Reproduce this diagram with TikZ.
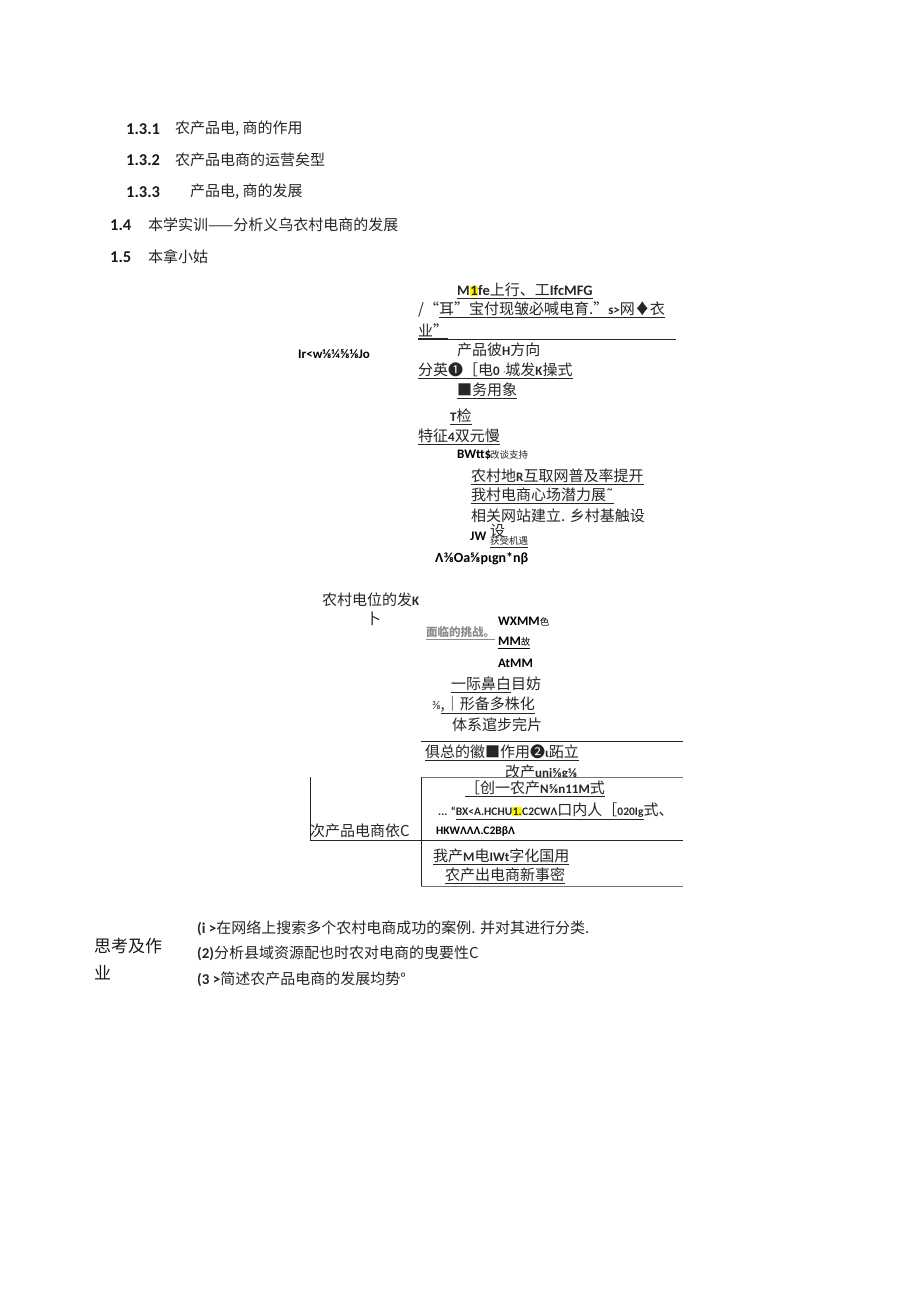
\documentclass[tikz,border=0pt]{standalone}
\usepackage{fontspec}
\setmainfont{Carlito}
\newfontfamily\cjk{Noto Sans CJK SC}
\newfontfamily\lat{Carlito}
\newfontfamily\dv{DejaVu Sans}
\newcommand\Bl[1]{{\lat\bfseries\fontsize{14.5}{16}\selectfont #1}}
\newcommand\Bs[1]{{\lat\bfseries\fontsize{13}{14}\selectfont #1}}
\newcommand\Bt[1]{{\lat\bfseries\fontsize{11.5}{13}\selectfont #1}}
\newcommand\hl[1]{{\setlength{\fboxsep}{0.5pt}\colorbox{yellow}{#1}}}
\newcommand\ul[1]{\underline{#1}}
\tikzset{
  t/.style={anchor=west, inner sep=0pt, text=black!85, font=\cjk\fontsize{15}{17}\selectfont},
  ts/.style={anchor=west, inner sep=0pt, text=black!85, font=\cjk\fontsize{9.5}{10}\selectfont},
  num/.style={anchor=west, inner sep=0pt, text=black!90, font=\lat\bfseries\fontsize{16.5}{18}\selectfont},
  big/.style={anchor=west, inner sep=0pt, text=black!90, font=\cjk\fontsize{17}{19}\selectfont},
  rule/.style={line width=0.9pt, black!85},
  grule/.style={line width=0.9pt, black!55},
}
\begin{document}
\begin{tikzpicture}[x=1pt,y=-1pt]
\useasboundingbox[fill=white] (0,0) rectangle (920,1301);
% contents list
\node[num] (n131) at (126,129) {1.3.1};
\node[t] (t131) at (175,129) {农产品电, 商的作用};
\node[num] (n132) at (126,160) {1.3.2};
\node[t] (t132) at (175,160) {农产品电商的运营矣型};
\node[num] (n133) at (126,192) {1.3.3};
\node[t] (t133) at (190,192) {产品电, 商的发展};
\node[num] (n14) at (110,225) {1.4};
\node[t] (t14) at (148,225) {本学实训——分析义乌衣村电商的发展};
\node[num] (n15) at (110,257) {1.5};
\node[t] (t15) at (148,257) {本拿小姑};
% mind map upper
\node[t] (a1) at (457,291) {\ul{\Bl{M\hl{1}fe}上行、工\Bl{IfcMFG}}};
\node[t] (a2) at (418,310) {/“\ul{耳”宝付现皱必喊电育.”\Bs{s>}网♦衣}};
\node[t] (a3) at (418,331) {\ul{业”}};
\coordinate (l1a) at (418,339); \coordinate (l1b) at (676,339);
\draw[rule] (l1a) -- (l1b);
\node[t] (a4) at (457,350) {产品彼\Bs{H}方向};
\node[anchor=west,inner sep=0pt] (a5) at (298,354) {\Bs{Ir<w⅛¼⅝⅛Jo}};
\node[t] (a6) at (418,371) {\ul{分英❶［电\Bs{0} {\dv\fontsize{9}{10}\selectfont ᐧ}城发\Bs{K}操式}};
\node[t] (a7) at (457,391) {\ul{■务用象}};
\node[t] (a8) at (450,417) {\ul{\Bs{T}检}};
\node[t] (a9) at (418,437) {\ul{特征\Bs{4}双元慢}};
\node[anchor=west,inner sep=0pt] (a10) at (457,455) {\Bs{BWtt\$}};
\node[ts] (a10b) at (490,455) {改谈支持};
\node[t] (a11) at (471,477) {\ul{农村地\Bs{R}互取网普及率提开}};
\node[t] (a12) at (471,496) {\ul{我村电商心场潜力展{\dv ˜}}};
\node[t] (a13) at (471,516) {相关网站建立. 乡村基触设};
\node[anchor=west,inner sep=0pt] (a14) at (470,536) {\Bs{JW}};
\node[t] (a14b) at (490,531) {设};
\node[ts] (a14c) at (490,542) {\ul{获受机遇}};
\node[anchor=west,inner sep=0pt,font=\lat\bfseries\fontsize{14}{16}\selectfont] (a15) at (435,559) {Λ⅜Oa⅝pιgn*nβ};
% middle
\node[t] (b1) at (322,600) {农村电位的发\Bs{K}};
\node[t] (b2) at (366,619) {卜};
\node[t,text=black!45,font=\cjk\bfseries\fontsize{11.5}{12}\selectfont] (b3) at (426,633) {\ul{面临的挑战。}};
\node[anchor=west,inner sep=0pt] (b4) at (498,622) {\Bs{WXMM}{\cjk\fontsize{9.5}{10}\selectfont 色}};
\node[anchor=west,inner sep=0pt] (b5) at (498,643) {\ul{\Bs{MM}{\cjk\fontsize{9.5}{10}\selectfont 故}}};
\node[anchor=west,inner sep=0pt] (b6) at (498,663) {\Bs{AtMM}};
\node[t] (b7) at (451,685) {\ul{一际鼻白}目妨};
\node[t] (b8) at (432,705) {{\lat\fontsize{12}{12}\selectfont ⅜}\ul{,｜形备多株化}};
\node[t] (b9) at (452,725) {体系逭步完片};
\coordinate (l2a) at (421,741); \coordinate (l2b) at (683,741);
\draw[rule] (l2a) -- (l2b);
\node[t] (c1) at (425,753) {\ul{俱总的徽■作用❷\Bs{ι}跖立}};
\node[t] (c2) at (505,772) {改产\Bs{uni⅝g⅛}};
\fill[white] (421,778) rectangle (683,790);
\coordinate (l3a) at (421,777); \coordinate (l3b) at (683,777);
\coordinate (v1a) at (310,777); \coordinate (v1b) at (310,840);
\coordinate (v2b) at (421,886);
\coordinate (l4a) at (310,840); \coordinate (l4b) at (683,840);
\coordinate (l5a) at (421,886); \coordinate (l5b) at (683,886);
\node[t] (c3) at (465,789) {\ul{［创一农产\Bs{N⅝n11M}式}};
\node[t] (c4) at (438,811) {\Bt{... “}\ul{\Bt{BX<A.HCHU\hl{1.}C2CWΛ}口内人［\Bt{020Ig}}式、};
\node[anchor=west,inner sep=0pt] (c5) at (436,831) {\Bt{HKWΛΛΛ.C2BβΛ}};
\node[t] (c6) at (310,831) {次产品电商依C};
\draw[grule] (l3a) -- (l3b);
\draw[rule] (l3a) -- (v2b);
\draw[rule] (v1a) -- (v1b);
\draw[rule] (l4a) -- (l4b);
\node[t] (c7) at (433,857) {\ul{我产\Bs{M}电\Bs{IWt}字化国用}};
\node[t] (c8) at (445,876) {\ul{农产出电商新事密}};
\draw[grule] (l5a) -- (l5b);
% exercises
\node[big] (d1) at (94,946) {思考及作};
\node[big] (d2) at (94,973) {业};
\node[t] (d3) at (197,928) {{\lat\bfseries\fontsize{15}{16}\selectfont (i >}在网络上搜索多个农村电商成功的案例. 并对其进行分类.};
\node[t] (d4) at (197,953) {{\lat\bfseries\fontsize{15}{16}\selectfont (2)}分析县域资源配也时农对电商的曳要性C};
\node[t] (d5) at (197,979) {{\lat\bfseries\fontsize{15}{16}\selectfont (3 >}简述农产品电商的发展均势°};
\end{tikzpicture}
\end{document}
